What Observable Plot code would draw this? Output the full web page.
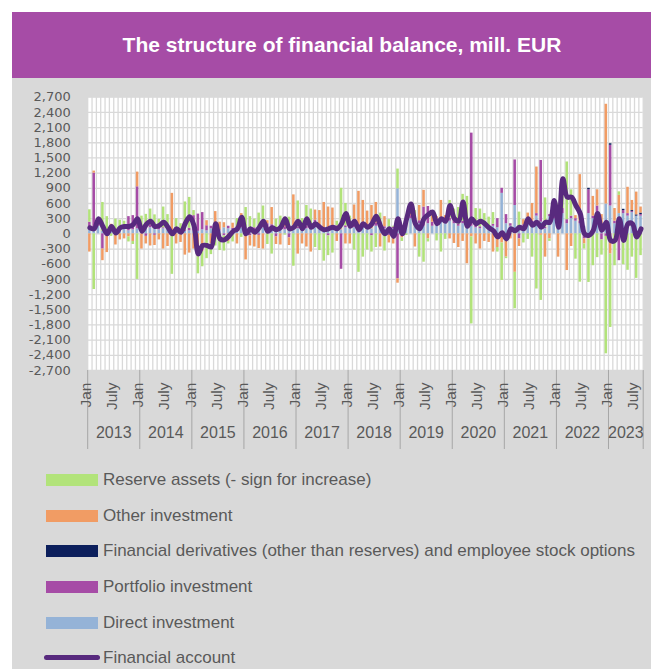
<!DOCTYPE html>
<html><head><meta charset="utf-8">
<script src="https://cdn.jsdelivr.net/npm/d3@7"></script>
<script src="https://cdn.jsdelivr.net/npm/@observablehq/plot@0.6"></script>
<style>
html,body{margin:0;padding:0;background:#fff;width:651px;height:669px;overflow:hidden;font-family:"Liberation Sans",Arial,sans-serif;}
#panel{position:absolute;left:12px;top:12px;width:639px;height:657px;background:#d9d9d9;}
#title{position:absolute;left:12px;top:12px;width:660px;height:66px;background:#a64ca6;color:#fff;font-weight:bold;font-size:21px;line-height:66px;text-align:center;white-space:nowrap;}
#chart{position:absolute;left:0;top:78px;}
.lg{position:absolute;left:0;height:20px;color:#595959;font-size:17px;white-space:nowrap;}
.lg .sw{position:absolute;left:46px;top:4px;width:52px;height:12px;}
.lg .ln{position:absolute;left:44px;top:7px;width:56px;height:5px;border-radius:3px;background:#582a7e;}
.lg span{position:absolute;left:103px;top:0;line-height:20px;}
</style>
</head><body>
<div id="panel"></div>
<div id="title">The structure of financial balance, mill. EUR</div>
<div id="chart"></div>
<div id="legend"></div>
<script>
const years = ["2013","2014","2015","2016","2017","2018","2019","2020","2021","2022","2023"];
const monthTickLabels = ["Jan","July"];
const seriesNames = ["Direct investment","Portfolio investment","Financial derivatives (other than reserves) and employee stock options","Other investment","Reserve assets (- sign for increase)"];
const seriesColors = ["#95b3d7","#a64ca6","#0c1f5c","#f19c64","#b2e37a"];

const directInvestment = [
 100,50,150,50,40,100,60,80,100,60,80,100,
 80,100,120,100,80,100,120,60,80,60,50,60,
 60,50,80,60,100,80,60,120,100,80,100,120,
 100,120,80,140,120,100,140,120,100,80,100,120,
 100,120,100,80,120,100,80,100,120,100,80,120,
 100,120,100,150,120,100,150,120,100,130,100,890,
 150,200,300,250,200,150,200,150,200,250,200,250,
 200,150,200,180,150,120,100,150,100,150,120,800,
 200,150,560,100,150,200,150,350,230,100,340,300,
 200,400,200,300,250,200,150,400,300,400,200,590,
 550,200,400,400,350,420,350,350];
const portfolioInvestment = [
 130,1150,50,-300,-40,30,-20,40,20,280,280,830,
 20,-50,50,-30,30,20,30,-30,20,-20,30,50,
 300,340,340,100,50,60,20,-40,50,30,40,80,
 20,-40,40,-30,60,100,40,-60,30,60,-80,20,
 40,30,60,40,150,30,40,-40,30,60,-700,40,
 30,50,40,60,30,-40,60,20,40,-30,30,-890,
 -40,30,60,80,60,380,340,80,40,60,40,60,
 60,40,50,60,1840,60,40,60,30,40,180,100,
 180,50,900,-100,30,60,100,50,1220,30,40,200,
 100,100,80,50,50,50,-100,470,50,150,-120,-50,
 1200,50,-530,60,50,20,-50,30];
const financialDerivatives = [
 0,0,0,0,0,0,0,0,0,0,0,0,
 0,0,0,0,0,0,0,0,0,0,0,0,
 0,0,0,0,0,0,0,0,0,0,0,0,
 0,0,0,0,0,0,0,0,0,0,0,0,
 0,0,0,0,0,0,0,0,0,0,0,0,
 0,0,0,0,0,0,0,0,0,0,0,0,
 0,0,0,0,0,0,0,0,0,0,0,0,
 0,0,0,0,0,0,0,0,0,0,0,0,
 0,0,0,0,0,0,0,0,0,0,0,0,
 0,0,0,0,0,0,0,30,0,0,0,0,
 30,0,0,25,0,20,25,30];
const otherInvestment = [
 -360,40,40,-230,-330,60,-200,-120,-100,-60,-150,290,
 -300,-150,-240,-200,-120,-300,-250,740,-200,-150,-420,-380,
 -300,-450,-350,100,-200,300,150,100,-150,100,-200,200,
 -515,-200,-260,-260,-300,60,340,-150,-220,185,-150,630,
 -400,-200,-260,-360,200,330,500,430,360,-150,20,-200,
 -200,400,700,450,300,460,410,-260,200,-150,-200,-85,
 -40,100,150,-260,300,330,-100,130,100,350,120,-100,
 -190,-270,-150,-590,-60,-200,-300,-150,-170,-360,-270,-180,
 -460,-100,-760,-150,100,150,350,920,-30,-460,-100,100,
 -460,0,-725,-250,60,920,-100,-100,390,320,180,1970,
 -400,250,360,-150,520,200,450,120];
const reserveAssets = [
 245,-1100,60,570,300,-50,230,150,130,-100,-60,-900,
 250,285,320,275,175,410,230,-770,200,140,550,610,
 100,-340,-300,-490,-210,-240,-330,-300,-50,-160,160,-70,
 400,220,170,270,370,-210,-400,170,220,-25,230,-640,
 510,150,400,370,-270,-330,-540,-390,-380,90,800,440,
 220,-320,-760,-460,-320,-320,-270,270,-340,150,20,390,
 -70,-30,80,130,-460,-560,-60,70,-140,-360,-110,350,
 230,330,530,500,-1720,320,350,190,200,230,-90,-740,
 -30,0,-720,330,-180,-110,-460,-1090,-1285,580,-50,60,
 290,590,1140,520,-500,-955,-100,-860,-630,-470,-300,-2320,
 -1450,-630,70,-460,-720,-460,-830,-430];
const financialAccount = [
 120,100,300,145,0,145,15,120,145,145,185,300,
 50,185,250,145,165,230,130,0,100,30,210,340,
 165,-400,-230,-230,-260,200,-100,-120,-50,50,100,330,
 0,100,30,120,250,50,120,80,130,300,100,130,
 250,100,300,130,200,130,80,100,130,100,200,400,
 150,250,80,200,130,200,350,150,0,100,-50,300,
 0,300,590,200,100,300,380,430,200,300,250,560,
 300,250,630,150,300,200,250,200,120,60,-60,20,
 -100,100,60,130,100,300,170,230,130,230,230,660,
 130,1090,725,725,560,400,0,-30,70,400,70,230,
 -130,-130,300,-130,200,200,-60,100];
const yTicks = d3.range(-2700, 2701, 300);

const N = financialAccount.length;
const idx = d3.range(N);
const seriesValues = [directInvestment, portfolioInvestment, financialDerivatives, otherInvestment, reserveAssets];
const barData = seriesValues.flatMap((vals, k) => vals.map((v, i) => ({i, v, s: seriesNames[k]})));
const lineData = financialAccount.map((v, i) => ({i, v}));

const W = 651, H = 390, mL = 87.2, mR = 8.3, mT = 18.7, mB = 98;
const bw = (W - mL - mR) / N;
const plotH = H - mT - mB;
const yearStarts = years.map((y, k) => k * 12);
const ticks = [];
years.forEach((y, k) => { ticks.push({i: k*12, t: monthTickLabels[0]}); if (k*12 + 6 < N) ticks.push({i: k*12 + 6, t: monthTickLabels[1]}); });
const yearLabels = years.map((y, k) => ({i: Math.min(k*12 + 5, Math.floor((k*12 + Math.min(N, k*12+12)) / 2) - 1), y}));
const fmt = d => d.toLocaleString("en-US");

const chart = Plot.plot({
  width: W, height: H,
  marginLeft: mL, marginRight: mR, marginTop: mT, marginBottom: mB,
  style: {background: "transparent", fontFamily: "'Liberation Sans', Arial, sans-serif", fontSize: "16px", color: "#595959", overflow: "visible"},
  x: {type: "band", domain: idx, padding: 0, axis: null},
  y: {domain: [-2700, 2700], axis: null},
  color: {domain: seriesNames, range: seriesColors},
  marks: [
    Plot.frame({fill: "white", stroke: null}),
    Plot.ruleY(yTicks, {y: d => d, stroke: "#d9d9d9", strokeWidth: 1.3, insetLeft: -5}),
    Plot.ruleX(idx, {x: d => d, dx: -bw/2, stroke: "#d9d9d9", strokeWidth: 1.3}),
    Plot.ruleX([N-1], {x: d => d, dx: bw/2, stroke: "#d9d9d9", strokeWidth: 1.3}),
    Plot.barY(barData, {x: "i", y: "v", fill: "s", insetLeft: 0.9, insetRight: 0.9}),
    Plot.line(lineData, {x: "i", y: "v", stroke: "#582a7e", strokeWidth: 5, curve: "catmull-rom", strokeLinejoin: "round", strokeLinecap: "round"}),
    Plot.text(yTicks, {y: d => d, text: fmt, frameAnchor: "left", dx: -17, textAnchor: "end", fill: "#595959", fontSize: 13, fontFamily: "'DejaVu Sans', sans-serif"}),
    Plot.ruleX(yearStarts, {x: d => d, dx: -bw/2, insetTop: plotH, insetBottom: -79, stroke: "#a6a6a6", strokeWidth: 1}),
    Plot.ruleX([N-1], {x: d => d, dx: bw/2, insetTop: plotH, insetBottom: -79, stroke: "#a6a6a6", strokeWidth: 1}),
    Plot.text(ticks, {x: "i", text: "t", frameAnchor: "bottom", dy: 12, dx: 1.5, rotate: -90, textAnchor: "end", fill: "#595959", fontSize: 15.5}),
    Plot.text(yearLabels, {x: "i", text: "y", frameAnchor: "bottom", dy: 67, dx: bw/2, fill: "#595959", fontSize: 16})
  ]
});
document.getElementById("chart").appendChild(chart);

const legendItems = [
  {name: seriesNames[4], color: seriesColors[4]},
  {name: seriesNames[3], color: seriesColors[3]},
  {name: seriesNames[2], color: seriesColors[2]},
  {name: seriesNames[1], color: seriesColors[1]},
  {name: seriesNames[0], color: seriesColors[0]},
  {name: "Financial account", color: "#582a7e", line: true}
];
const legendY = [480, 515.5, 551, 587, 622.5, 658];
const lg = document.getElementById("legend");
legendItems.forEach((it, k) => {
  const d = document.createElement("div");
  d.className = "lg";
  d.style.top = (legendY[k] - 10) + "px";
  const s = document.createElement("div");
  s.className = it.line ? "ln" : "sw";
  s.style.background = it.color;
  const t = document.createElement("span");
  t.textContent = it.name;
  d.appendChild(s); d.appendChild(t);
  lg.appendChild(d);
});
</script>
</body></html>
